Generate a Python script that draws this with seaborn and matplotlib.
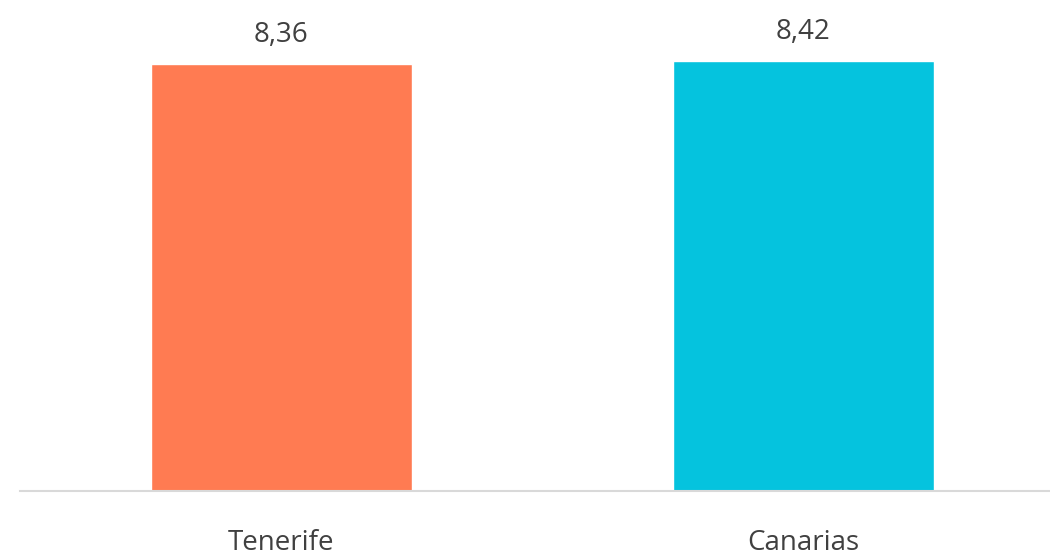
import matplotlib
matplotlib.use("Agg")
import matplotlib.pyplot as plt
import pandas as pd
import seaborn as sns

categories = ["Tenerife", "Canarias"]
values = [8.36, 8.42]
labels = ["8,36", "8,42"]
colors = ["#FF7B52", "#05C3DE"]

sns.set_style("white")
plt.rcParams["font.family"] = ["Open Sans", "DejaVu Sans"]

df = pd.DataFrame({"zona": categories, "valor": values})

fig = plt.figure(figsize=(10.5, 5.57), dpi=100)
ax = fig.add_axes([20 / 1050, 66 / 557, 1044 / 1050, 459.6 / 557])
sns.barplot(data=df, x="zona", y="valor", hue="zona", palette=colors,
            width=0.5, saturation=1, legend=False, ax=ax)

for cont, lbl in zip(ax.containers, labels):
    ax.bar_label(cont, labels=[lbl], padding=11, fontsize=20, color="#404040")

ax.set_xlim(-0.5, 1.5)
ax.set_ylim(0, 9)
ax.set_xlabel("")
ax.set_ylabel("")
ax.set_yticks([])
ax.tick_params(axis="x", length=0, pad=27, labelsize=20, labelcolor="#404040")
for side in ["top", "left", "right"]:
    ax.spines[side].set_visible(False)
ax.spines["bottom"].set_color("#D9D9D9")
ax.spines["bottom"].set_linewidth(1.5)

fig.savefig("out.png", dpi=100, facecolor="white")
